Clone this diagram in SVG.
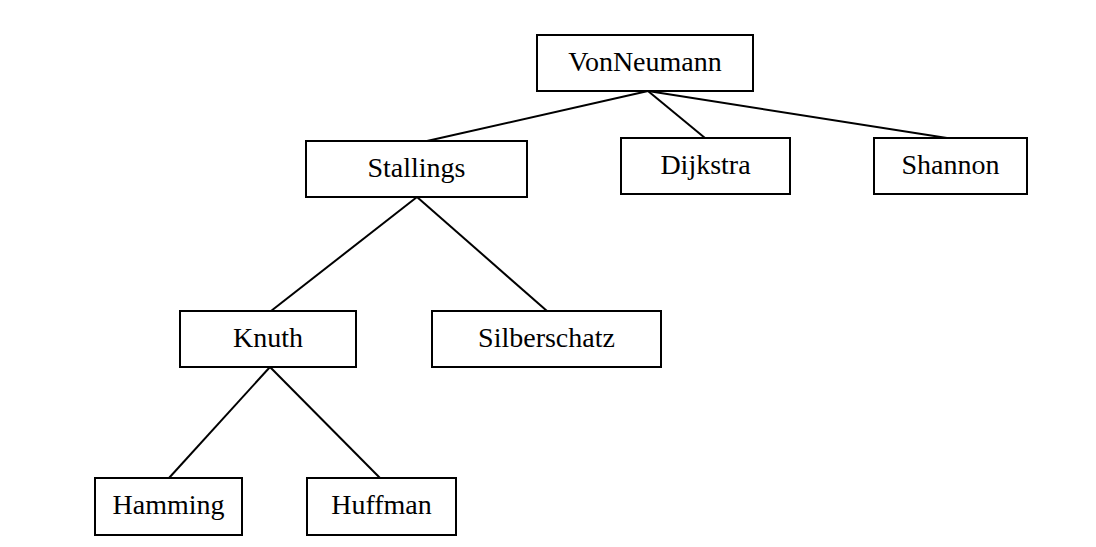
<svg xmlns="http://www.w3.org/2000/svg" width="1096" height="547" viewBox="0 0 1096 547">
<style>
rect{fill:#fff;stroke:#000;stroke-width:2}
text{font-family:"Liberation Serif","DejaVu Serif",serif;font-size:28px;text-anchor:middle;fill:#000}
line{stroke:#000;stroke-width:2}
</style>
<rect width="1096" height="547" style="stroke:none"/>
<g id="connectors">
<line x1="648" y1="91" x2="427" y2="141"/>
<line x1="648" y1="91" x2="705" y2="138"/>
<line x1="648" y1="91" x2="947" y2="138"/>
<line x1="417" y1="197" x2="271" y2="311"/>
<line x1="417" y1="197" x2="547" y2="311"/>
<line x1="270" y1="367" x2="169" y2="478"/>
<line x1="270" y1="367" x2="380" y2="478"/>
</g>
<g id="VonNeumann"><rect x="537" y="35" width="216" height="56"/><text x="645" y="71">VonNeumann</text></g>
<g id="Stallings"><rect x="306" y="141" width="221" height="56"/><text x="416.5" y="177">Stallings</text></g>
<g id="Dijkstra"><rect x="621" y="138" width="169" height="56"/><text x="705.5" y="174">Dijkstra</text></g>
<g id="Shannon"><rect x="874" y="138" width="153" height="56"/><text x="950.5" y="174">Shannon</text></g>
<g id="Knuth"><rect x="180" y="311" width="176" height="56"/><text x="268" y="347">Knuth</text></g>
<g id="Silberschatz"><rect x="432" y="311" width="229" height="56"/><text x="546.5" y="347">Silberschatz</text></g>
<g id="Hamming"><rect x="95" y="478" width="147" height="57"/><text x="168.5" y="514">Hamming</text></g>
<g id="Huffman"><rect x="307" y="478" width="149" height="57"/><text x="381.5" y="514">Huffman</text></g>
</svg>
